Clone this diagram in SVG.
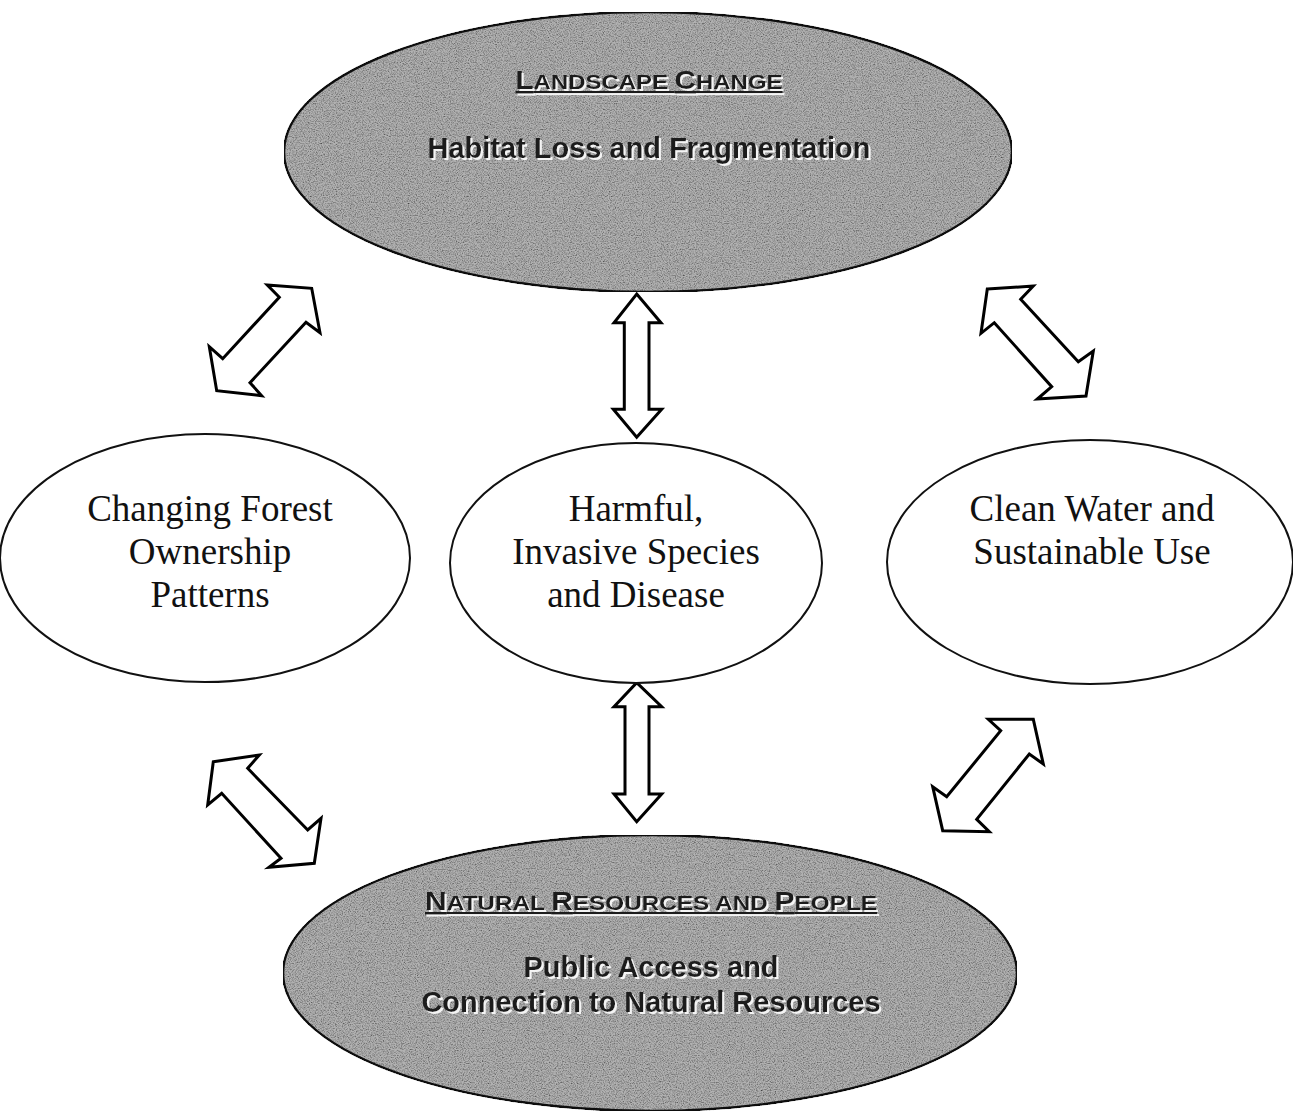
<svg xmlns="http://www.w3.org/2000/svg" width="1293" height="1112" viewBox="0 0 1293 1112">
  <style>
    .dark { fill: #b2b2b2; stroke: #111; stroke-width: 2.5; filter: url(#grain); }
    .light { fill: #ffffff; stroke: #111; stroke-width: 2; }
    .serif { font-family: "Liberation Serif", "Times New Roman", serif; font-size: 37px; fill: #111; text-anchor: middle; }
    .bold { font-family: "Liberation Sans", Arial, sans-serif; font-weight: bold; font-size: 29px; fill: #1c1c1c; text-anchor: middle; filter: url(#shadow); }
    .caps { font-family: "Liberation Sans", Arial, sans-serif; font-weight: bold; fill: #1c1c1c; text-anchor: middle; filter: url(#shadow); }
    .big { font-size: 26px; }
    .small { font-size: 21px; }
    .arrow { fill: #ffffff; stroke: #000; stroke-width: 3; stroke-linejoin: miter; }
  </style>
  <defs>
    <filter id="shadow" x="-5%" y="-20%" width="110%" height="150%">
      <feFlood flood-color="#f4f4f4" result="w"/>
      <feComposite in="w" in2="SourceAlpha" operator="in" result="ws"/>
      <feOffset in="ws" dx="1.5" dy="1.5" result="off"/>
      <feMerge>
        <feMergeNode in="off"/>
        <feMergeNode in="SourceGraphic"/>
      </feMerge>
    </filter>
    <filter id="grain" x="0" y="0" width="100%" height="100%">
      <feTurbulence type="fractalNoise" baseFrequency="0.85" numOctaves="2" seed="7" result="n"/>
      <feColorMatrix in="n" type="matrix" values="1.6 0 0 0 0  1.6 0 0 0 0  1.6 0 0 0 0  0 0 0 0 1" result="g"/>
      <feBlend in="SourceGraphic" in2="g" mode="multiply" result="b"/>
      <feComposite in="b" in2="SourceAlpha" operator="in"/>
    </filter>
  </defs>
  <rect width="1293" height="1112" fill="#ffffff"/>

  <g id="connectors">
    <polygon class="arrow" points="267.3,285 311.7,288.3 320,332.7 306,322.3 250,382.7 261.7,395.7 216.7,390.7 209.3,346.7 222.7,358.7 279.3,297.3"/>
    <polygon class="arrow" points="987.3,289 1033.3,286 1020.7,299.3 1078.3,361.7 1093.3,351 1086,396 1037.3,399 1051.7,386.7 994.3,322.7 981,333.3"/>
    <polygon class="arrow" points="636.7,294 661,322.7 649,322.7 649,409.3 661.7,409.3 636.7,437.3 613.3,409.3 624.3,409.3 624.3,322.7 614,322.7"/>
    <polygon class="arrow" points="636.7,682.7 661.7,706.7 649,706.7 649,794 661.7,794 636.7,821.7 614,794 625,794 625,706.7 614,706.7"/>
    <polygon class="arrow" points="213.3,761.7 259.3,755 247.7,768.3 307.7,830 321,818.3 314.3,863.3 269,867.3 281,858.3 221.7,793.3 207.7,805"/>
    <polygon class="arrow" points="988.3,719.3 1033.3,719.3 1043.3,764 1029.3,754 976.7,819.3 989.3,831.7 942.7,830.7 932.7,786.7 946.7,796.7 1000.7,730.7"/>
  </g>

  <g id="landscape-change">
    <ellipse class="dark" cx="648" cy="152" rx="364" ry="140"/>
    <text class="caps" x="649" y="89" textLength="267" lengthAdjust="spacingAndGlyphs" text-decoration="underline"><tspan class="big">L</tspan><tspan class="small">ANDSCAPE </tspan><tspan class="big">C</tspan><tspan class="small">HANGE</tspan></text>
    <text class="bold" x="649" y="158">Habitat Loss and Fragmentation</text>
  </g>

  <g id="forest-ownership">
    <ellipse class="light" cx="205" cy="558" rx="205" ry="124"/>
    <text class="serif" x="210" y="521">Changing Forest</text>
    <text class="serif" x="210" y="564">Ownership</text>
    <text class="serif" x="210" y="607">Patterns</text>
  </g>

  <g id="invasive-species">
    <ellipse class="light" cx="636" cy="563" rx="186" ry="120"/>
    <text class="serif" x="636" y="521">Harmful,</text>
    <text class="serif" x="636" y="564">Invasive Species</text>
    <text class="serif" x="636" y="607">and Disease</text>
  </g>

  <g id="clean-water">
    <ellipse class="light" cx="1090" cy="562" rx="203" ry="122"/>
    <text class="serif" x="1092" y="521">Clean Water and</text>
    <text class="serif" x="1092" y="564">Sustainable Use</text>
  </g>

  <g id="natural-resources">
    <ellipse class="dark" cx="650" cy="973" rx="367" ry="138"/>
    <text class="caps" x="651" y="910" textLength="452" lengthAdjust="spacingAndGlyphs" text-decoration="underline"><tspan class="big">N</tspan><tspan class="small">ATURAL </tspan><tspan class="big">R</tspan><tspan class="small">ESOURCES AND </tspan><tspan class="big">P</tspan><tspan class="small">EOPLE</tspan></text>
    <text class="bold" x="651" y="977">Public Access and</text>
    <text class="bold" x="651" y="1012">Connection to Natural Resources</text>
  </g>
</svg>
